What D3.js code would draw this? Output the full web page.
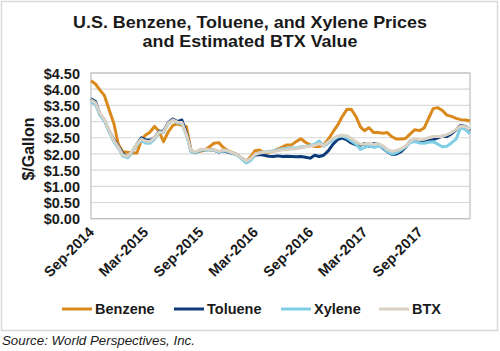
<html>

<head>
    <script src="https://cdn.jsdelivr.net/npm/d3@7"></script>
    <style>
        body { margin: 0; background: #fff; }
        text { font-family: Arial, "Liberation Sans", sans-serif; }
    </style>
</head>

<body>
    <div id="container"></div>
    <script>
        // semi-monthly prices, $/gallon, Sep-2014 .. Feb-2018
        const benzene = [4.26, 4.16, 3.97, 3.80, 3.35, 2.95, 2.30, 2.07, 2.05, 2.03, 2.03, 2.42, 2.58, 2.67, 2.85, 2.70,
            2.38, 2.67, 2.88, 2.93, 2.88, 2.85, 2.10, 2.05, 2.08, 2.12, 2.22, 2.33, 2.35, 2.20, 2.10, 2.05,
            1.98, 1.87, 1.77, 1.92, 2.10, 2.12, 2.03, 2.05, 2.08, 2.15, 2.22, 2.28, 2.28, 2.38, 2.47, 2.36,
            2.28, 2.23, 2.23, 2.28, 2.46, 2.68, 2.88, 3.14, 3.37, 3.38, 3.15, 2.83, 2.72, 2.81, 2.66, 2.66,
            2.64, 2.66, 2.53, 2.46, 2.46, 2.48, 2.62, 2.75, 2.72, 2.80, 3.10, 3.40, 3.43, 3.34, 3.20, 3.16,
            3.10, 3.06, 3.05, 3.02];
        const toluene = [3.70, 3.62, 3.22, 3.04, 2.70, 2.44, 2.24, 2.02, 1.90, 2.06, 2.30, 2.50, 2.44, 2.42, 2.50, 2.70,
            2.70, 2.96, 3.08, 3.00, 3.05, 2.65, 2.08, 2.04, 2.12, 2.14, 2.13, 2.12, 2.06, 2.10, 2.06, 2.02,
            1.98, 1.87, 1.78, 1.84, 1.96, 1.98, 1.96, 1.93, 1.92, 1.94, 1.92, 1.93, 1.92, 1.91, 1.92, 1.90,
            1.87, 1.96, 1.92, 1.96, 2.10, 2.30, 2.44, 2.49, 2.44, 2.34, 2.28, 2.27, 2.32, 2.24, 2.32, 2.30,
            2.18, 2.07, 1.98, 2.00, 2.07, 2.20, 2.40, 2.44, 2.40, 2.38, 2.42, 2.44, 2.50, 2.55, 2.54, 2.62,
            2.75, 2.88, 2.85, 2.72];
        const xylene = [3.62, 3.52, 3.20, 3.02, 2.68, 2.38, 2.18, 1.94, 1.88, 2.06, 2.28, 2.42, 2.34, 2.33, 2.46, 2.66,
            2.66, 2.92, 3.04, 2.96, 2.94, 2.58, 2.07, 2.04, 2.11, 2.13, 2.12, 2.12, 2.06, 2.10, 2.08, 2.03,
            1.96, 1.85, 1.72, 1.80, 1.98, 2.04, 2.06, 2.08, 2.09, 2.12, 2.16, 2.17, 2.18, 2.18, 2.22, 2.22,
            2.26, 2.30, 2.40, 2.24, 2.34, 2.44, 2.52, 2.55, 2.50, 2.40, 2.30, 2.14, 2.20, 2.26, 2.20, 2.24,
            2.20, 2.08, 2.00, 2.04, 2.12, 2.22, 2.36, 2.38, 2.34, 2.33, 2.36, 2.38, 2.30, 2.22, 2.24, 2.34,
            2.46, 2.82, 2.75, 2.62];
        const btx = [3.67, 3.58, 3.25, 3.06, 2.72, 2.42, 2.22, 1.97, 1.92, 2.08, 2.30, 2.46, 2.40, 2.38, 2.50, 2.68,
            2.68, 2.94, 3.05, 2.98, 2.97, 2.60, 2.10, 2.07, 2.13, 2.15, 2.13, 2.13, 2.08, 2.12, 2.09, 2.04,
            1.98, 1.88, 1.78, 1.86, 1.99, 2.03, 2.05, 2.07, 2.07, 2.10, 2.13, 2.13, 2.15, 2.16, 2.19, 2.22,
            2.24, 2.27, 2.31, 2.26, 2.38, 2.48, 2.55, 2.58, 2.56, 2.48, 2.38, 2.30, 2.31, 2.33, 2.29, 2.32,
            2.26, 2.14, 2.08, 2.11, 2.16, 2.24, 2.40, 2.47, 2.44, 2.45, 2.50, 2.54, 2.54, 2.54, 2.60, 2.66,
            2.76, 2.86, 2.84, 2.75];

        // 1st and 16th of each month
        const dates = d3.range(benzene.length).map(i => new Date(2014, 8 + Math.floor(i / 2), i % 2 ? 16 : 1));

        const seriesNames = ["Benzene", "Toluene", "Xylene", "BTX"];
        const seriesColors = ["#DA8A1C", "#0D3B79", "#7ECEE6", "#D9D1C4"];
        const yTicks = [0, 0.5, 1, 1.5, 2, 2.5, 3, 3.5, 4, 4.5];
        const xTicks = [new Date(2014, 8, 1), new Date(2015, 2, 1), new Date(2015, 8, 1), new Date(2016, 2, 1),
            new Date(2016, 8, 1), new Date(2017, 2, 1), new Date(2017, 8, 1)];

        const width = 500;
        const height = 351;
        const plot = { left: 91, right: 470, top: 73, bottom: 218.7 };

        const svg = d3.select("#container").append("svg")
            .attr("width", width)
            .attr("height", height);

        // outer frame
        svg.append("rect")
            .attr("x", 1.5).attr("y", 1.5)
            .attr("width", 496).attr("height", 329)
            .attr("fill", "#fff")
            .attr("stroke", "#D9D9D9")
            .attr("stroke-width", 1.5);

        // title (the original is a bit stretched sideways)
        const titleLines = ["U.S. Benzene, Toluene, and Xylene Prices", "and Estimated BTX Value"];
        svg.append("g")
            .selectAll("text")
            .data(titleLines)
            .join("text")
            .attr("transform", (d, i) => `translate(250,${i ? 46.7 : 28.3}) scale(1.12,1)`)
            .attr("text-anchor", "middle")
            .attr("font-weight", "bold")
            .attr("font-size", 16)
            .attr("fill", "#1a1a1a")
            .text(d => d);

        const x = d3.scaleTime()
            .domain([dates[0], dates[dates.length - 1]])
            .range([plot.left, plot.right]);

        const y = d3.scaleLinear()
            .domain([0, 4.5])
            .range([plot.bottom, plot.top]);

        // gridlines
        svg.append("g")
            .selectAll("line")
            .data(yTicks)
            .join("line")
            .attr("x1", plot.left)
            .attr("x2", plot.right)
            .attr("y1", d => y(d))
            .attr("y2", d => y(d))
            .attr("stroke", "#D9D9D9")
            .attr("stroke-width", 1.2);

        // plot border
        svg.append("rect")
            .attr("x", plot.left)
            .attr("y", plot.top)
            .attr("width", plot.right - plot.left)
            .attr("height", plot.bottom - plot.top)
            .attr("fill", "none")
            .attr("stroke", "#BFBFBF")
            .attr("stroke-width", 1.2);

        // y axis labels
        const yAxis = svg.append("g")
            .attr("transform", `translate(${plot.left - 11},0)`)
            .call(d3.axisLeft(y).tickValues(yTicks).tickSize(0).tickPadding(0).tickFormat(d3.format("$.2f")));
        yAxis.select(".domain").remove();
        yAxis.selectAll("text")
            .attr("font-size", 14.5)
            .attr("font-weight", "bold")
            .attr("font-family", "Arial, 'Liberation Sans', sans-serif")
            .attr("fill", "#1a1a1a")
            .attr("dy", "0.36em");

        svg.append("text")
            .attr("transform", "translate(34,149) rotate(-90)")
            .attr("text-anchor", "middle")
            .attr("font-size", 16)
            .attr("font-weight", "bold")
            .attr("fill", "#1a1a1a")
            .text("$/Gallon");

        // x axis labels, rotated
        const fmt = d3.timeFormat("%b-%Y");
        svg.append("g")
            .selectAll("text")
            .data(xTicks)
            .join("text")
            .attr("transform", d => `translate(${x(d) + 4},233) rotate(-45)`)
            .attr("text-anchor", "end")
            .attr("font-size", 14.5)
            .attr("font-weight", "bold")
            .attr("fill", "#1a1a1a")
            .text(d => fmt(d));

        // series lines
        const allSeries = [benzene, toluene, xylene, btx];
        const line = d3.line()
            .x((d, i) => x(dates[i]))
            .y(d => y(d));

        svg.append("g")
            .selectAll("path")
            .data(allSeries)
            .join("path")
            .attr("fill", "none")
            .attr("stroke", (d, i) => seriesColors[i])
            .attr("stroke-width", 3)
            .attr("stroke-linejoin", "round")
            .attr("d", line);

        // legend
        const legendX = [62, 174, 281, 379];
        const legend = svg.append("g")
            .selectAll("g")
            .data(seriesNames)
            .join("g")
            .attr("transform", (d, i) => `translate(${legendX[i]},309)`);
        legend.append("line")
            .attr("x1", 0).attr("x2", 30)
            .attr("stroke", (d, i) => seriesColors[i])
            .attr("stroke-width", 3);
        legend.append("text")
            .attr("x", 33)
            .attr("dy", "0.36em")
            .attr("font-size", 14.5)
            .attr("font-weight", "bold")
            .attr("fill", "#1a1a1a")
            .text(d => d);

        // source note
        svg.append("text")
            .attr("x", 2)
            .attr("y", 345)
            .attr("font-size", 13.3)
            .attr("font-style", "italic")
            .attr("fill", "#1a1a1a")
            .text("Source: World Perspectives, Inc.");
    </script>
</body>

</html>
